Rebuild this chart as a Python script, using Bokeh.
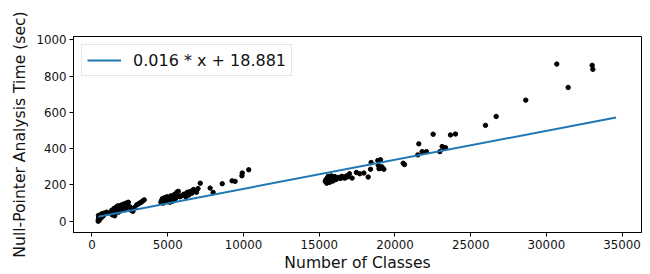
from bokeh.plotting import figure
from bokeh.models import Range1d, FixedTicker
from bokeh.embed import file_html
from bokeh.resources import INLINE

# --- data ---
classes_a = [410, 420, 450, 480, 500, 520, 560, 600, 640, 700, 750, 800, 850, 900, 960, 1000, 430, 470, 540, 620, 680, 760]
time_a = [0, 10, 20, 5, 25, 15, 30, 18, 28, 35, 30, 38, 42, 45, 50, 48, 32, 12, 22, 40, 26, 44]

classes_b = [1250, 1300, 1350, 1400, 1450, 1500, 1550, 1600, 1650, 1700, 1750, 1800, 1850, 1900, 1950, 2000,
             2050, 2100, 2150, 2200, 2250, 2300, 2350, 2400, 2500, 2600, 2700, 2800, 2950, 3050, 3150, 3250,
             3350, 3450, 1500, 1600, 1700]
time_b = [45, 60, 35, 50, 70, 40, 75, 55, 80, 65, 50, 75, 85, 60, 90, 70,
          80, 95, 65, 85, 100, 75, 90, 105, 80, 60, 55, 75, 90, 95, 100, 105,
          112, 118, 30, 65, 85]

classes_c = [4550, 4600, 4650, 4700, 4750, 4800, 4850, 4900, 4950, 5000, 5050, 5100, 5150, 5200, 5250, 5300,
             5350, 5400, 5450, 5500, 5550, 5600, 5650, 5700, 5800, 5900, 6000, 6100, 6200, 6300, 6400, 6500,
             6600, 6700, 6800, 6900, 7000, 7150, 7800, 8000, 8600, 9250, 9450, 9900, 9920, 10350]
time_c = [105, 115, 125, 100, 120, 130, 110, 125, 135, 115, 120, 130, 105, 140, 125, 110,
          135, 145, 120, 150, 130, 160, 140, 165, 135, 140, 145, 150, 135, 160, 145, 165,
          155, 175, 170, 160, 180, 210, 183, 159, 207, 223, 220, 251, 266, 284]

classes_d = [15400, 15450, 15500, 15550, 15600, 15650, 15700, 15750, 15800, 15850, 15900, 15950, 16000, 16050,
             16100, 16200, 16300, 16400, 16500, 16600, 16700, 16800, 16900, 15500, 15700, 15900, 16100, 15600,
             15800, 16000]
time_d = [220, 230, 215, 240, 225, 235, 220, 245, 230, 225, 240, 228, 235, 245,
          232, 238, 242, 236, 248, 240, 238, 250, 245, 210, 215, 222, 230, 248,
          250, 246]

classes_e = [17000, 17175, 17460, 17680, 17950, 18235, 18390, 18430, 18870, 18900, 18950, 19050, 19090, 19000,
             19150, 19270, 20545, 20630, 21510, 21577, 21796, 22083, 22525, 22963, 23119, 23230, 23340, 23668,
             23998, 25979, 26686, 28640, 30686, 31438, 33023, 33067]
time_e = [262, 238, 269, 262, 266, 244, 287, 324, 335, 309, 290, 339, 293, 300,
          300, 287, 320, 313, 366, 427, 384, 384, 480, 384, 412, 403, 406, 476,
          481, 529, 578, 668, 867, 738, 860, 838]

num_classes = classes_a + classes_b + classes_c + classes_d + classes_e
analysis_time = time_a + time_b + time_c + time_d + time_e

fit_slope = 0.016
fit_intercept = 18.881
fit_x = [409, 34600]
fit_y = [fit_slope * v + fit_intercept for v in fit_x]
fit_label = "0.016 * x + 18.881"

x_ticks = [0, 5000, 10000, 15000, 20000, 25000, 30000, 35000]
y_ticks = [0, 200, 400, 600, 800, 1000]

FONT = "DejaVu Sans"

p = figure(width=650, height=274, output_backend="svg", toolbar_location=None,
           x_range=Range1d(-1220, 36280), y_range=Range1d(-62, 1019),
           min_border_left=73, min_border_right=9, min_border_top=36, min_border_bottom=41)

p.scatter(num_classes, analysis_time, marker="circle", size=4.4, color="black")
p.line(fit_x, fit_y, line_color="#1f77b4", line_width=2, legend_label=fit_label)

p.xgrid.visible = False
p.ygrid.visible = False
p.outline_line_color = "black"
p.outline_line_width = 1
p.background_fill_color = "white"
p.border_fill_color = "white"

for ax in (p.xaxis[0], p.yaxis[0]):
    ax.major_label_text_font = FONT
    ax.major_label_text_font_size = "11.8px"
    ax.major_label_text_color = "#111111"
    ax.axis_label_text_font = FONT
    ax.axis_label_text_font_size = "15.6px"
    ax.axis_label_text_font_style = "normal"
    ax.axis_label_text_color = "#111111"
    ax.axis_line_color = "black"
    ax.major_tick_line_color = "black"
    ax.major_tick_out = 4
    ax.major_tick_in = 0
    ax.minor_tick_line_color = None
    ax.major_label_standoff = 3

p.xaxis[0].ticker = FixedTicker(ticks=x_ticks)
p.yaxis[0].ticker = FixedTicker(ticks=y_ticks)
p.xaxis[0].axis_label = "Number of Classes"
p.yaxis[0].axis_label = "Null-Pointer Analysis Time (sec)"
p.xaxis[0].axis_label_standoff = 2
p.yaxis[0].axis_label_standoff = 4

p.legend.location = "top_left"
p.legend.margin = 8
p.legend.padding = 5
p.legend.label_text_font = FONT
p.legend.label_text_font_size = "16px"
p.legend.label_text_color = "#111111"
p.legend.glyph_width = 34
p.legend.label_standoff = 12
p.legend.border_line_color = "#cccccc"
p.legend.border_line_width = 1
p.legend.background_fill_alpha = 0.8

open("out.html", "w").write(file_html(p, INLINE))
